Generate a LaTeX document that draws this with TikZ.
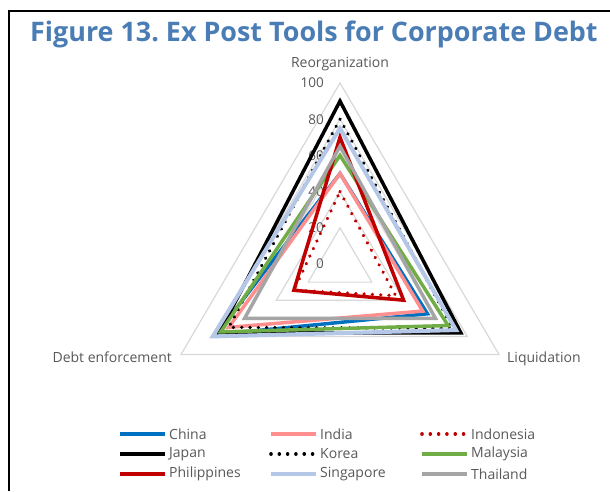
\documentclass[tikz,border=0pt]{standalone}
\usepackage{fontspec}
\setmainfont{Open Sans}
\frenchspacing
\definecolor{titleblue}{RGB}{74,125,181}
\definecolor{lbl}{RGB}{89,89,89}
\definecolor{gridc}{RGB}{217,217,217}
\definecolor{cchina}{RGB}{0,112,192}
\definecolor{cindia}{RGB}{255,143,143}
\definecolor{cred}{RGB}{192,0,0}
\definecolor{cmalay}{RGB}{112,173,71}
\definecolor{csing}{RGB}{180,199,231}
\definecolor{cthai}{RGB}{165,165,165}
\tikzset{
  gridline/.style={draw=gridc, line width=1.2pt},
  ser/.style={line width=3.5pt, line join=miter},
  dotser/.style={line width=3.6pt, line cap=round, dash pattern=on 0.01pt off 8.3pt},
  ticklbl/.style={anchor=east, text=lbl, inner sep=0pt, font=\fontsize{13.5}{16}\selectfont},
  axlbl/.style={text=lbl, inner sep=0pt, font=\fontsize{14}{16}\selectfont},
  leglbl/.style={anchor=west, text=lbl, inner sep=0pt, font=\fontsize{14}{16}\selectfont},
}
% radar path: top (reorganization), right (liquidation), left (debt enforcement)
\newcommand{\radarpath}[3]{(340,{264-1.81*#1}) -- ({340+1.59*#2},{264+0.905*#2}) -- ({340-1.59*#3},{264+0.905*#3}) -- cycle}
\begin{document}
\begin{tikzpicture}[x=1pt,y=-1pt]
\useasboundingbox (0,0) rectangle (610,491);
\fill[white] (0,0) rectangle (610,491);
% frame
\draw[line width=2.5pt] (9,491) -- (9,11) -- (610,11);
% title
\node[anchor=base west, inner sep=0pt, text=titleblue, font=\fontsize{26.9}{30}\selectfont\bfseries] (title) at (30,41) {Figure 13. Ex Post Tools for Corporate Debt};
% grid
\foreach \v in {20,40,60,80,100} {
  \draw[gridline] \radarpath{\v}{\v}{\v};
}
% tick labels
\foreach \v in {0,20,40,60,80,100} {
  \node[ticklbl] (t\v) at (324,{264-1.81*\v}) {\v};
}
% axis labels
\node[axlbl, anchor=base] (reorg) at (340,67) {Reorganization};
\node[axlbl, anchor=base west] (liq) at (507,362) {Liquidation};
\node[axlbl, anchor=base east] (debt) at (172,362) {Debt enforcement};
% series
\draw[ser, cchina] \radarpath{50}{55}{78};
\draw[ser, cindia] \radarpath{50}{52}{70};
\draw[dotser, cred] \radarpath{40}{35}{29};
\draw[ser, black] \radarpath{90}{76}{76};
\draw[dotser, black] \radarpath{80}{71}{70};
\draw[ser, cmalay] \radarpath{60}{68}{75};
\draw[ser, cred] \radarpath{70}{40}{29};
\draw[ser, csing, line width=4pt] \radarpath{75}{73}{80};
\draw[ser, cthai] \radarpath{65}{60}{60};
% legend
\coordinate (l1a) at (120,434); \coordinate (l1b) at (165,434);
\coordinate (l2a) at (120,454); \coordinate (l2b) at (165,454);
\coordinate (l3a) at (120,474); \coordinate (l3b) at (165,474);
\coordinate (m1a) at (271,434); \coordinate (m1b) at (316,434);
\coordinate (m2a) at (271,454); \coordinate (m2b) at (316,454);
\coordinate (m3a) at (271,474); \coordinate (m3b) at (316,474);
\coordinate (r1a) at (422,434); \coordinate (r1b) at (467,434);
\coordinate (r2a) at (422,454); \coordinate (r2b) at (467,454);
\coordinate (r3a) at (422,474); \coordinate (r3b) at (467,474);
\draw[ser, cchina] (l1a) -- (l1b);
\draw[ser, black] (l2a) -- (l2b);
\draw[ser, cred] (l3a) -- (l3b);
\draw[ser, cindia] (m1a) -- (m1b);
\draw[dotser, black] (m2a) -- (m2b);
\draw[ser, csing] (m3a) -- (m3b);
\draw[dotser, cred] (r1a) -- (r1b);
\draw[ser, cmalay] (r2a) -- (r2b);
\draw[ser, cthai] (r3a) -- (r3b);
\node[leglbl] (gchina) at (169,434) {China};
\node[leglbl] (gjapan) at (169,454) {Japan};
\node[leglbl] (gphil) at (169,474) {Philippines};
\node[leglbl] (gindia) at (320,434) {India};
\node[leglbl] (gkorea) at (320,454) {Korea};
\node[leglbl] (gsing) at (320,474) {Singapore};
\node[leglbl] (gindo) at (471,434) {Indonesia};
\node[leglbl] (gmalay) at (471,454) {Malaysia};
\node[leglbl] (gthai) at (471,474) {Thailand};
\end{tikzpicture}
\end{document}
